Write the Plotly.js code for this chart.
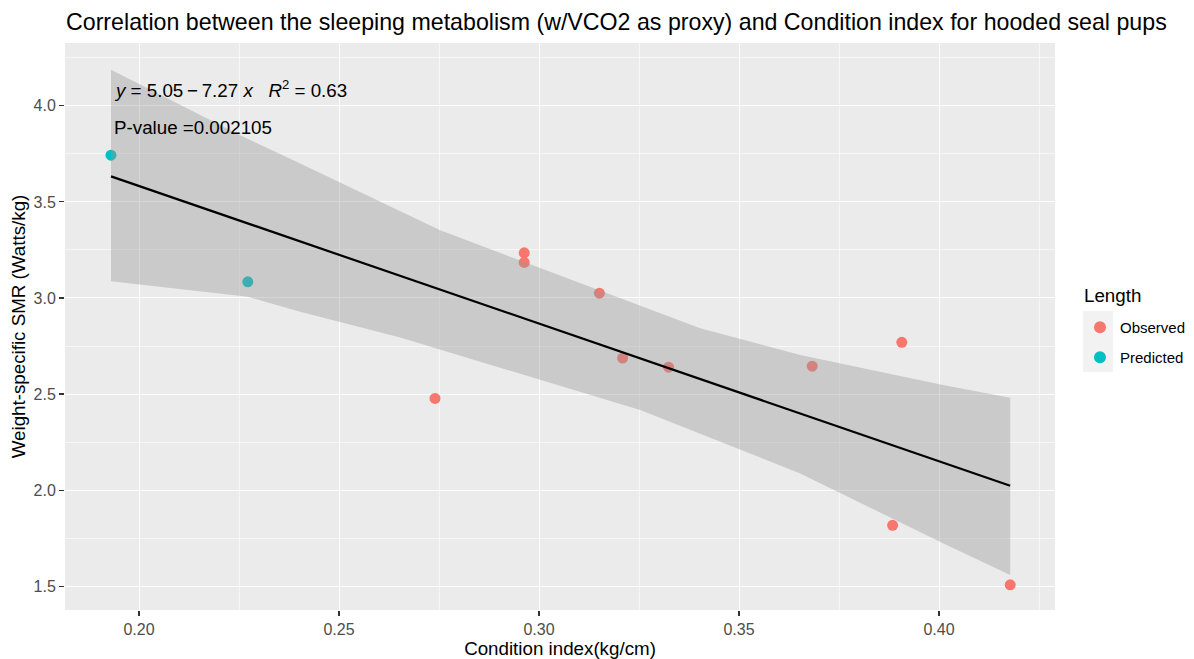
<!DOCTYPE html>
<html>
<head>
<meta charset="utf-8">
<script src="https://cdn.plot.ly/plotly-3.0.1.min.js"></script>
<style>html,body{margin:0;padding:0;background:#fff;}#chart{width:1194px;height:659px;}</style>
</head>
<body>
<div id="chart"></div>
<script>
// Observed points (Length = Observed)
const obsX = [0.274, 0.2963, 0.2963, 0.3151, 0.3209, 0.3324, 0.3683, 0.3884, 0.3907, 0.4178];
const obsY = [2.477, 3.235, 3.185, 3.025, 2.687, 2.640, 2.645, 1.817, 2.769, 1.507];
// Predicted points (Length = Predicted)
const predX = [0.193, 0.2272];
const predY = [3.743, 3.084];
// Fitted regression line (end points)
const fitX = [0.193, 0.4178];
const fitY = [3.633, 2.023];
// Confidence band
const bandUpperX = [0.193, 0.2253, 0.2403, 0.2753, 0.2963, 0.3403, 0.3653, 0.4010, 0.4178];
const bandUpperY = [4.188, 3.847, 3.700, 3.353, 3.187, 2.843, 2.703, 2.547, 2.481];
const bandLowerX = [0.193, 0.2272, 0.2403, 0.2653, 0.3253, 0.3653, 0.4010, 0.4178];
const bandLowerY = [3.087, 3.006, 2.928, 2.794, 2.417, 2.087, 1.723, 1.558];
// Tick labels
const xTicks = [0.20, 0.25, 0.30, 0.35, 0.40];
const xTickText = ["0.20", "0.25", "0.30", "0.35", "0.40"];
const xMinor = [0.175, 0.225, 0.275, 0.325, 0.375, 0.425];
const yTicks = [1.5, 2.0, 2.5, 3.0, 3.5, 4.0];
const yTickText = ["1.5", "2.0", "2.5", "3.0", "3.5", "4.0"];
const yMinor = [1.25, 1.75, 2.25, 2.75, 3.25, 3.75, 4.25];
const legendNames = ["Observed", "Predicted"];
const colors = ["#F8766D", "#00BFC4"];

const FONT = "Liberation Sans, Arial, sans-serif";

const ribbonX = bandUpperX.concat(bandLowerX.slice().reverse());
const ribbonY = bandUpperY.concat(bandLowerY.slice().reverse());

const traces = [
  {x: obsX, y: obsY, type: "scatter", mode: "markers", name: legendNames[0],
   marker: {color: colors[0], size: 11}, legendgroup: "a"},
  {x: predX, y: predY, type: "scatter", mode: "markers", name: legendNames[1],
   marker: {color: colors[1], size: 11}, legendgroup: "b"},
  {x: ribbonX, y: ribbonY, type: "scatter", mode: "lines", fill: "toself",
   fillcolor: "rgba(153,153,153,0.4)", line: {width: 0}, showlegend: false, hoverinfo: "skip"},
  {x: fitX, y: fitY, type: "scatter", mode: "lines", line: {color: "#000000", width: 2.2},
   showlegend: false}
];

const layout = {
  width: 1194, height: 659,
  margin: {l: 65, r: 139, t: 43, b: 49, pad: 0, autoexpand: false},
  paper_bgcolor: "#FFFFFF",
  plot_bgcolor: "#EBEBEB",
  font: {family: FONT, color: "#000000"},
  title: {text: "Correlation between the sleeping metabolism (w/VCO2 as proxy) and Condition index for hooded seal pups",
          font: {size: 23.2, color: "#000000", family: FONT},
          x: 66/1194, xanchor: "left", xref: "container",
          y: 1 - 21.5/659, yanchor: "middle", yref: "container"},
  xaxis: {range: [0.1815, 0.429], tickvals: xTicks, ticktext: xTickText,
          ticks: "outside", ticklen: 5, tickwidth: 1.1, tickcolor: "#333333",
          tickfont: {size: 16, color: "#4D4D4D"},
          showgrid: true, gridcolor: "#FFFFFF", gridwidth: 1, zeroline: false, showline: false,
          minor: {tickmode: "array", tickvals: xMinor, showgrid: true, gridcolor: "#FFFFFF", gridwidth: 0.6, ticks: ""},
          title: {text: "Condition index(kg/cm)", font: {size: 18.75, color: "#000000"}, standoff: 8}},
  yaxis: {range: [1.376, 4.327], tickvals: yTicks, ticktext: yTickText,
          ticks: "outside", ticklen: 5, tickwidth: 1.1, tickcolor: "#333333",
          tickfont: {size: 16, color: "#4D4D4D"},
          showgrid: true, gridcolor: "#FFFFFF", gridwidth: 1, zeroline: false, showline: false,
          minor: {tickmode: "array", tickvals: yMinor, showgrid: true, gridcolor: "#FFFFFF", gridwidth: 0.6, ticks: ""},
          title: {text: "Weight-specific SMR (Watts/kg)", font: {size: 18.75, color: "#000000"}, standoff: 2}},
  legend: {x: (1080 - 65)/990, xanchor: "left", y: 1 - (311 - 43)/567, yanchor: "top",
           bgcolor: "rgba(0,0,0,0)", borderwidth: 0,
           font: {size: 15, color: "#000000"}, tracegroupgap: 7.5, itemsizing: "constant"},
  shapes: [
    {type: "rect", xref: "paper", yref: "paper", layer: "below",
     x0: (1083 - 65)/990, x1: (1113 - 65)/990, y0: 1 - (311 - 43)/567, y1: 1 - (372 - 43)/567,
     fillcolor: "#F2F2F2", line: {width: 0}}
  ],
  annotations: [
    {xref: "paper", yref: "paper", x: (1082 - 65)/990, y: 1 - (295 - 43)/567, xanchor: "left", yanchor: "middle",
     showarrow: false, font: {size: 18.75, color: "#000000"}, text: "Length"},
    {xref: "paper", yref: "paper", x: (112 - 65)/990, y: 1 - (89.3 - 43)/567, xanchor: "left", yanchor: "middle",
     showarrow: false, font: {size: 18.75, color: "#000000"},
     text: "<i>y</i> = 5.05\u2009\u2212\u20097.27 <i>x</i>\u00A0\u00A0\u00A0<i>R</i><sup>2</sup> = 0.63"},
    {xref: "paper", yref: "paper", x: (112 - 65)/990, y: 1 - (127.7 - 43)/567, xanchor: "left", yanchor: "middle",
     showarrow: false, font: {size: 18.75, color: "#000000"},
     text: "P-value =0.002105"}
  ],
  showlegend: true
};

Plotly.newPlot("chart", traces, layout, {displayModeBar: false, staticPlot: true});
</script>
</body>
</html>
